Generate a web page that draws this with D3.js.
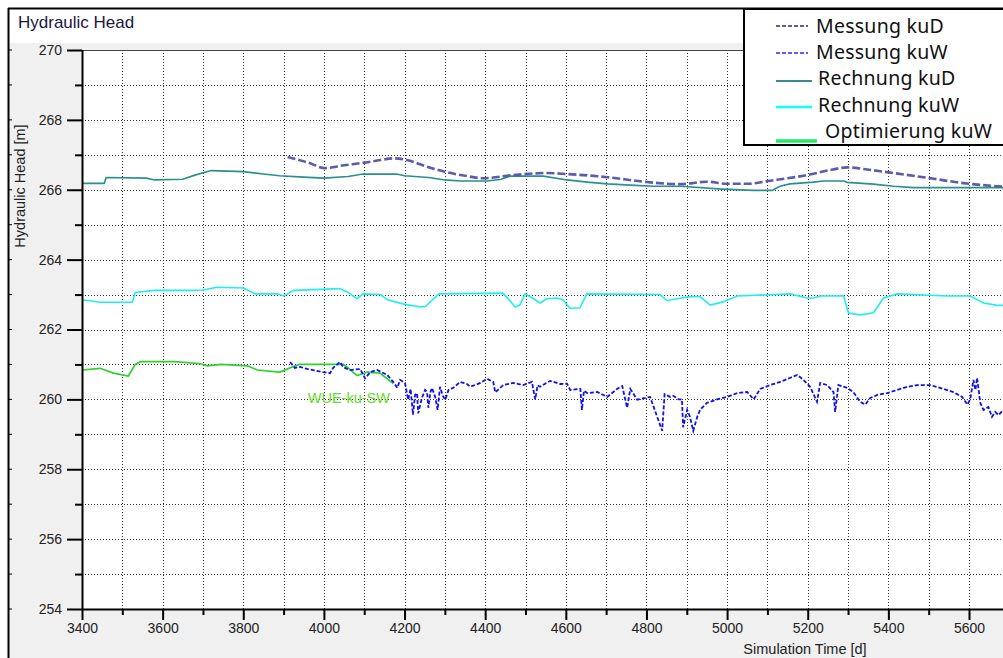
<!DOCTYPE html>
<html><head><meta charset="utf-8">
<script src="https://cdn.jsdelivr.net/npm/d3@7"></script>
<style>
html,body{margin:0;padding:0;background:#fff;}
svg{display:block;}
text{font-family:"Liberation Sans",Arial,sans-serif;}
</style></head>
<body>
<svg id="c" width="1003" height="658"></svg>
<script>
// ---------- data ----------
const xMajorTicks = [3400,3600,3800,4000,4200,4400,4600,4800,5000,5200,5400,5600];
const xMinorTicks = [3500,3700,3900,4100,4300,4500,4700,4900,5100,5300,5500];
const yMajorTicks = [254,256,258,260,262,264,266,268,270];
const yMinorTicks = [255,257,259,261,263,265,267,269];

const seriesNames = ["Messung kuD","Messung kuW","Rechnung kuD","Rechnung kuW","Optimierung kuW"];

const rechnungKuD_t = [3400,3455,3460,3560,3580,3650,3680,3720,3800,3850,3890,3950,4000,4060,4097,4180,4200,4260,4300,4338,4405,4440,4462,4544,4603,4653,4703,4760,4817,4884,4988,5065,5112,5131,5156,5214,5239,5289,5298,5363,5413,5462,5685];
const rechnungKuD_v = [266.18,266.18,266.35,266.33,266.28,266.3,266.42,266.55,266.52,266.45,266.4,266.36,266.33,266.38,266.45,266.45,266.4,266.35,266.28,266.25,266.25,266.3,266.39,266.39,266.28,266.22,266.17,266.13,266.1,266.1,266.02,265.98,265.98,266.1,266.17,266.22,266.25,266.25,266.21,266.16,266.1,266.06,266.06];

const messungKuD_t = [3910,3960,4003,4050,4097,4140,4172,4206,4250,4305,4350,4395,4470,4553,4603,4703,4802,4884,4950,5000,5050,5107,5198,5250,5298,5347,5405,5504,5586,5685];
const messungKuD_v = [266.94,266.78,266.62,266.7,266.77,266.85,266.9,266.85,266.68,266.5,266.4,266.33,266.42,266.48,266.45,266.36,266.22,266.16,266.23,266.17,266.17,266.26,266.42,266.55,266.64,266.58,266.49,266.33,266.19,266.09];

const rechnungKuW_t = [3400,3445,3480,3525,3532,3580,3670,3700,3735,3800,3830,3885,3900,3925,4040,4060,4082,4097,4140,4158,4200,4238,4251,4285,4444,4461,4474,4486,4499,4520,4536,4553,4578,4593,4610,4635,4652,4834,4851,4876,4909,4933,4958,4990,5025,5157,5198,5214,5231,5289,5301,5330,5363,5388,5422,5546,5603,5636,5670,5685];
const rechnungKuW_v = [262.85,262.78,262.78,262.78,263.06,263.12,263.12,263.13,263.21,263.19,263.02,263.02,262.96,263.12,263.17,263.06,262.88,263.02,263.0,262.85,262.72,262.65,262.65,263.02,263.04,262.83,262.64,262.7,263.02,262.88,262.76,262.88,262.9,262.85,262.61,262.62,263.02,263.0,262.83,262.88,262.94,262.94,262.7,262.79,262.96,263.02,262.9,262.9,262.96,262.96,262.47,262.42,262.48,262.9,263.02,262.96,262.96,262.76,262.69,262.69];

const optimierungKuW_t = [3400,3445,3478,3515,3532,3545,3630,3695,3710,3745,3810,3835,3891,3924,3940,4048,4058,4082,4107,4139,4172];
const optimierungKuW_v = [260.84,260.89,260.75,260.67,261.0,261.08,261.08,261.02,260.96,261.0,260.96,260.84,260.78,260.94,261.0,261.0,260.92,260.68,260.78,260.75,260.45];

const messungKuW_t = [3916,3928,3941,3958,3973,3998,4015,4023,4040,4048,4065,4090,4102,4115,4132,4157,4172,4182,4189,4201,4209,4215,4221,4226,4231,4234,4239,4243,4251,4256,4259,4264,4268,4276,4282,4288,4295,4301,4309,4321,4338,4355,4363,4388,4405,4420,4425,4445,4470,4494,4516,4524,4530,4536,4561,4586,4603,4611,4636,4640,4645,4653,4678,4703,4727,4740,4752,4760,4777,4809,4839,4845,4859,4867,4880,4888,4891,4901,4908,4916,4926,4933,4950,4975,5000,5025,5050,5066,5082,5107,5132,5157,5174,5189,5206,5223,5231,5248,5264,5268,5276,5298,5313,5330,5343,5355,5373,5397,5422,5447,5472,5504,5536,5561,5583,5596,5603,5611,5616,5620,5628,5636,5648,5657,5665,5673,5685];
const messungKuW_v = [261.07,260.9,260.93,260.87,260.84,260.78,260.75,260.9,261.07,260.92,260.84,260.87,260.6,260.78,260.84,260.7,260.5,260.33,260.56,260.47,259.99,260.3,259.56,260.13,260.18,259.6,259.85,260.04,260.27,260.21,259.76,260.2,260.33,260.07,259.7,260.36,260.1,259.99,260.27,260.33,260.5,260.44,260.36,260.47,260.59,260.5,260.2,260.41,260.47,260.41,260.5,260.0,260.4,260.36,260.53,260.44,260.45,260.27,260.3,259.7,260.25,260.18,260.21,260.07,260.3,260.38,259.76,260.3,259.99,260.07,259.1,260.15,260.07,260.1,260.0,260.0,259.2,259.7,259.5,259.1,259.5,259.7,259.9,260.0,260.07,260.18,260.21,260.0,260.3,260.41,260.5,260.62,260.7,260.56,260.36,259.93,260.47,260.41,260.21,259.64,260.41,260.33,260.21,259.93,259.85,260.04,260.13,260.18,260.27,260.36,260.41,260.41,260.3,260.21,260.07,259.85,260.0,260.56,260.27,260.62,259.9,259.7,259.78,259.5,259.64,259.55,259.7];

const labelText = "WUE-ku-SW";
const labelPos = [3960, 259.9];

// ---------- layout ----------
const svg = d3.select("#c");
const L = 82, R = 1003, T = 50, B = 609;
const x = d3.scaleLinear().domain([3400,5600]).range([82,969]);
const y = d3.scaleLinear().domain([254,270]).range([B,T]);

// backgrounds
svg.append("rect").attr("x",8).attr("y",8).attr("width",1003).attr("height",650).attr("fill","#fff");
svg.append("rect").attr("x",9).attr("y",43).attr("width",1000).attr("height",620).attr("fill","#f0f0f0");
svg.append("rect").attr("x",L).attr("y",T).attr("width",R-L+5).attr("height",B-T).attr("fill","#fff");
// outer frame
svg.append("line").attr("x1",8).attr("x2",1003).attr("y1",8.5).attr("y2",8.5).attr("stroke","#000").attr("stroke-width",2);
svg.append("line").attr("x1",8.5).attr("x2",8.5).attr("y1",8).attr("y2",658).attr("stroke","#000").attr("stroke-width",2);

// title
svg.append("text").attr("x",18).attr("y",28).attr("font-size",17).attr("fill","#1c1640").text("Hydraulic Head");

// left frame ticks (secondary)
const yAll = d3.range(254,271,1);
svg.append("g").selectAll("line").data(yAll).join("line")
  .attr("x1",9).attr("x2",12).attr("y1",d=>y(d)).attr("y2",d=>y(d)).attr("stroke","#000").attr("stroke-width",1);

// grid
const grid = svg.append("g");
grid.selectAll(".gv").data(xMajorTicks.concat(xMinorTicks).filter(d=>d>3400)).join("line")
  .attr("x1",d=>Math.round(x(d))+0.5).attr("x2",d=>Math.round(x(d))+0.5).attr("y1",T).attr("y2",B)
  .attr("stroke","#333").attr("stroke-width",1).attr("stroke-dasharray","1,2");
grid.selectAll(".gh").data(yAll.filter(d=>d>254 && d<270)).join("line")
  .attr("x1",L).attr("x2",R).attr("y1",d=>Math.round(y(d))+0.5).attr("y2",d=>Math.round(y(d))+0.5)
  .attr("stroke","#333").attr("stroke-width",1).attr("stroke-dasharray","1,2");
// top border of plot
svg.append("line").attr("x1",L).attr("x2",R).attr("y1",T+0.5).attr("y2",T+0.5).attr("stroke","#444").attr("stroke-width",1);

// clip
svg.append("clipPath").attr("id","pc").append("rect").attr("x",L).attr("y",T).attr("width",R-L).attr("height",B-T);
const plot = svg.append("g").attr("clip-path","url(#pc)");

function series(t,v){ return t.map((d,i)=>[d,v[i]]); }
const line = d3.line().x(d=>x(d[0])).y(d=>y(d[1]));
const smooth = d3.line().x(d=>x(d[0])).y(d=>y(d[1])).curve(d3.curveMonotoneX);

plot.append("path").datum(series(rechnungKuD_t,rechnungKuD_v)).attr("d",line)
  .attr("fill","none").attr("stroke","#2a8f8f").attr("stroke-width",1.7);
plot.append("path").datum(series(messungKuD_t,messungKuD_v)).attr("d",smooth)
  .attr("fill","none").attr("stroke","#5c5caa").attr("stroke-width",2.6).attr("stroke-dasharray","8,3");
plot.append("path").datum(series(rechnungKuW_t,rechnungKuW_v)).attr("d",line)
  .attr("fill","none").attr("stroke","#20eef0").attr("stroke-width",1.6);
plot.append("path").datum(series(optimierungKuW_t,optimierungKuW_v)).attr("d",line)
  .attr("fill","none").attr("stroke","#2fd02f").attr("stroke-width",1.7);
plot.append("path").datum(series(messungKuW_t,messungKuW_v)).attr("d",line)
  .attr("fill","none").attr("stroke","#1010f0").attr("stroke-width",1.8).attr("stroke-dasharray","4,2");

plot.append("text").attr("x",x(labelPos[0])).attr("y",y(labelPos[1])).attr("font-size",14.5)
  .attr("fill","#62dc2a").text(labelText);

// axes
const ax = svg.append("g").attr("transform",`translate(0,${B})`);
ax.call(d3.axisBottom(x).tickValues(xMajorTicks).tickSize(11).tickPadding(4).tickFormat(d3.format("d")));
const axm = svg.append("g").attr("transform",`translate(0,${B})`);
axm.call(d3.axisBottom(x).tickValues(xMinorTicks).tickSize(6).tickFormat(""));
axm.select(".domain").remove();
ax.select(".domain").attr("d",`M${L},0.5H${R}`).attr("stroke-width",2);
ax.selectAll(".tick line").attr("stroke-width",2);
axm.selectAll(".tick line").attr("stroke-width",2);
ax.selectAll(".tick text").attr("font-size",14).attr("fill","#222").attr("font-family","'Liberation Sans',Arial,sans-serif").attr("dy","0.9em").attr("y",11);

const ay = svg.append("g").attr("transform",`translate(${L},0)`);
ay.call(d3.axisLeft(y).tickValues(yMajorTicks).tickSize(15).tickPadding(5).tickFormat(d3.format("d")));
const aym = svg.append("g").attr("transform",`translate(${L},0)`);
aym.call(d3.axisLeft(y).tickValues(yMinorTicks).tickSize(7).tickFormat(""));
aym.select(".domain").remove();
ay.select(".domain").attr("d",`M0.5,${T}V${B}`).attr("stroke-width",2);
ay.selectAll(".tick line").attr("stroke-width",2);
aym.selectAll(".tick line").attr("stroke-width",2);
ay.selectAll(".tick text").attr("font-size",14).attr("fill","#222").attr("font-family","'Liberation Sans',Arial,sans-serif");

// axis titles
svg.append("text").attr("x",805).attr("y",654).attr("text-anchor","middle").attr("font-size",14.5).attr("fill","#222").text("Simulation Time [d]");
svg.append("text").attr("transform","translate(25,186) rotate(-90)").attr("text-anchor","middle").attr("font-size",14.5).attr("fill","#222").text("Hydraulic Head [m]");

// legend
const lg = svg.append("g");
lg.append("rect").attr("x",744).attr("y",9).attr("width",270).attr("height",136).attr("fill","#fff").attr("stroke","#000").attr("stroke-width",2);
const legStyle = [
  {c:"#2b2b6b", w:1.6, dash:"4,2", ly:26, ty:33, tx:816, x2:808},
  {c:"#2a2aff", w:1.6, dash:"4,2", ly:53, ty:59, tx:816, x2:808},
  {c:"#3a8c8c", w:2.2, dash:null, ly:81, ty:85, tx:818, x2:812},
  {c:"#10ffff", w:2.6, dash:null, ly:107, ty:111.5, tx:818, x2:812},
  {c:"#20ee66", w:3.5, dash:null, ly:141, ty:138, tx:825, x2:817}
];
const items = lg.selectAll(".li").data(seriesNames).join("g");
items.append("line").attr("x1",776).attr("x2",(d,i)=>legStyle[i].x2)
  .attr("y1",(d,i)=>legStyle[i].ly).attr("y2",(d,i)=>legStyle[i].ly)
  .attr("stroke",(d,i)=>legStyle[i].c).attr("stroke-width",(d,i)=>legStyle[i].w)
  .attr("stroke-dasharray",(d,i)=>legStyle[i].dash);
items.append("text").attr("x",(d,i)=>legStyle[i].tx).attr("y",(d,i)=>legStyle[i].ty)
  .attr("font-size",19.5).attr("letter-spacing","0.25px").attr("fill","#111").style("font-family","'Noto Sans',sans-serif").text(d=>d);
</script>
</body></html>
